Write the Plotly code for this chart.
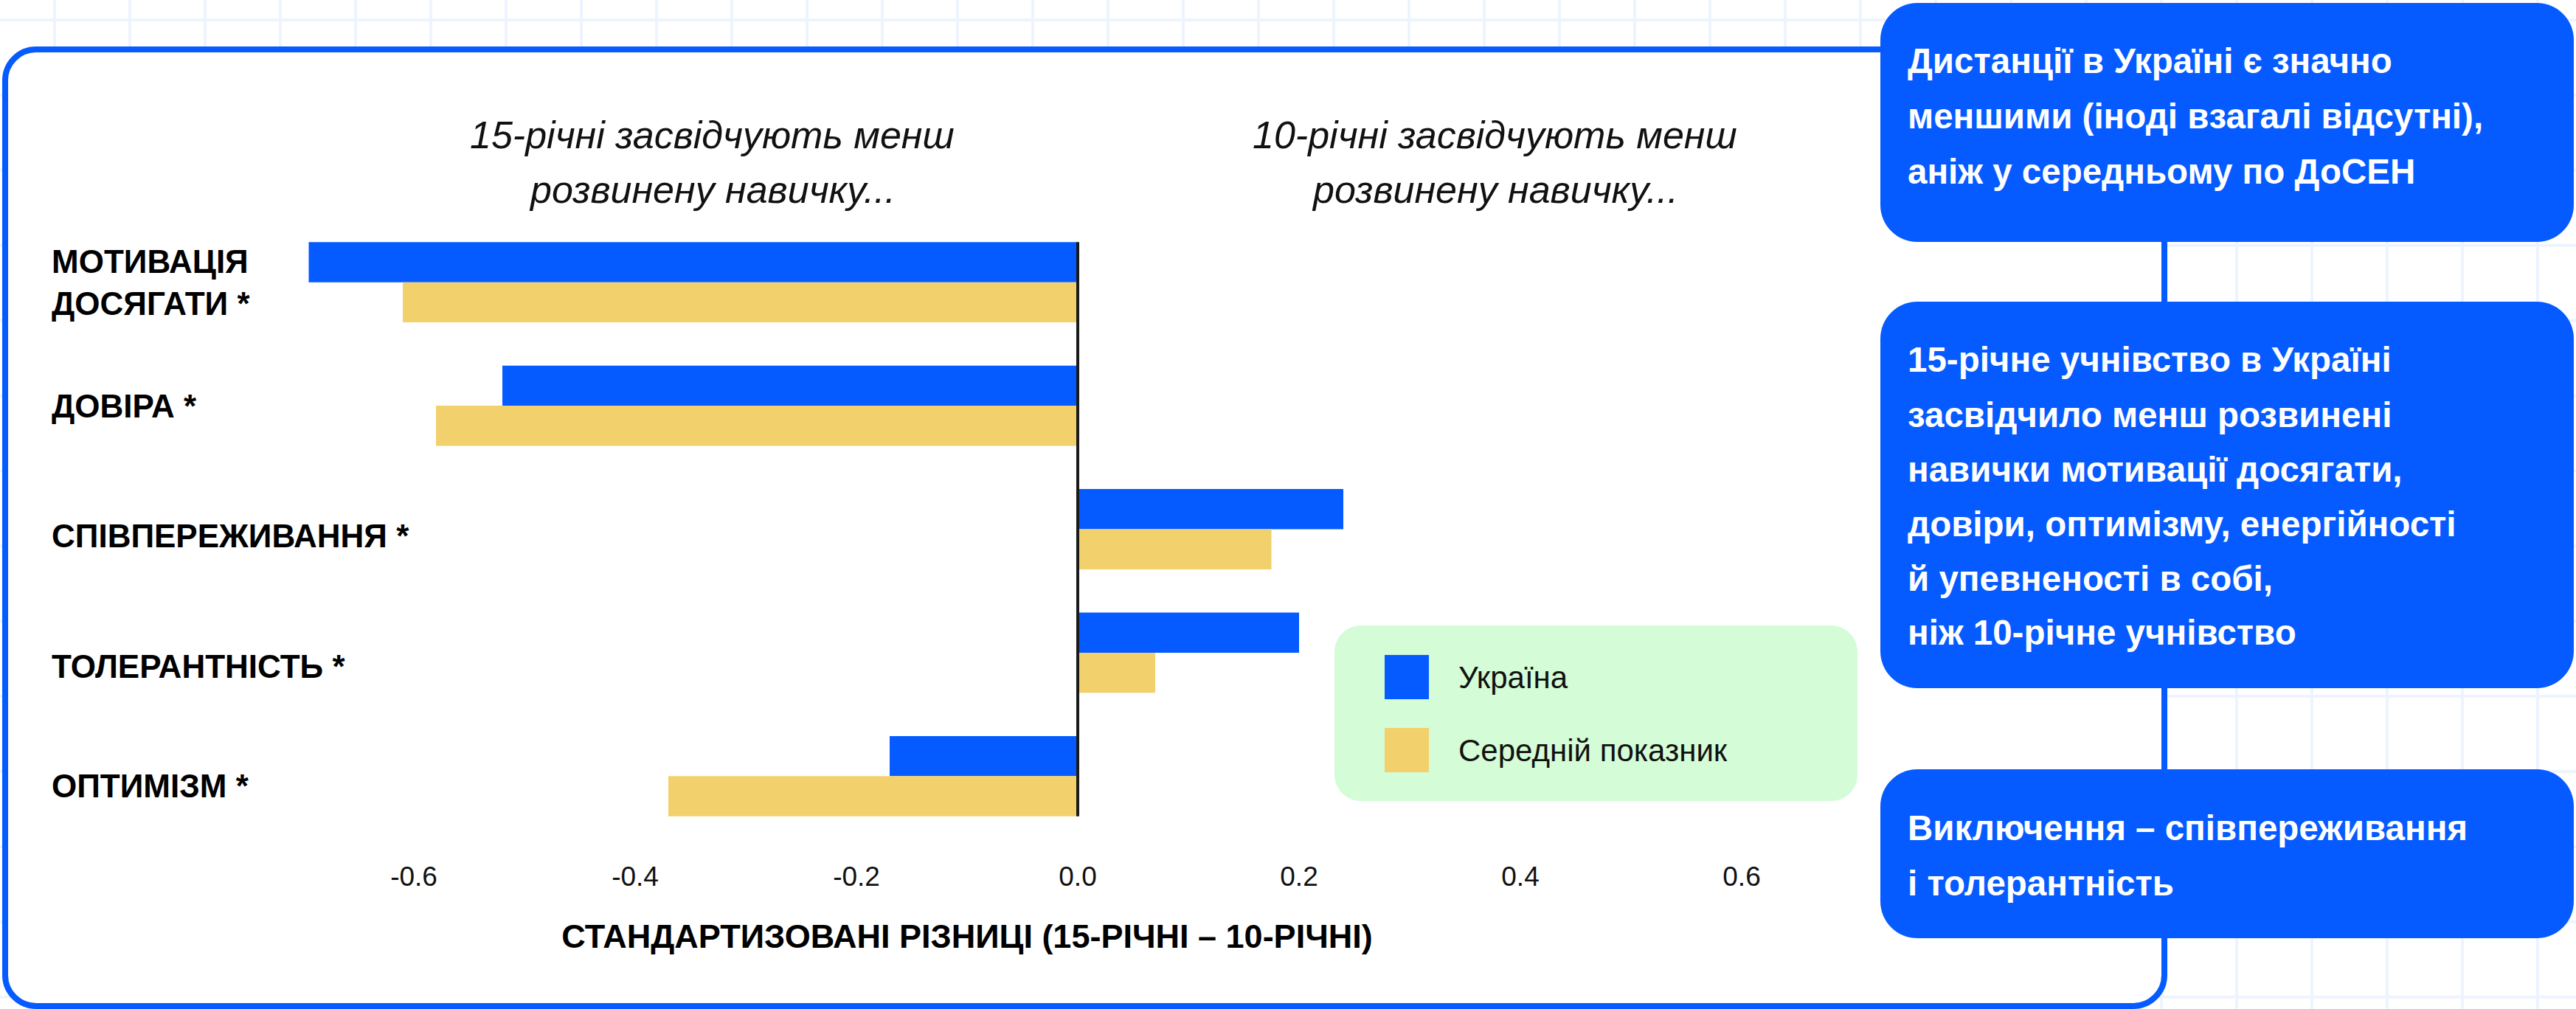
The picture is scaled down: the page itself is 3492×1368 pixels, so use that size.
import plotly.graph_objects as go

# ---------------- data ----------------
categories = ["МОТИВАЦІЯ<br>ДОСЯГАТИ *", "ДОВІРА *", "СПІВПЕРЕЖИВАННЯ *", "ТОЛЕРАНТНІСТЬ *", "ОПТИМІЗМ *"]
series_names = ["Україна", "Середній показник"]
ukraine = [-0.695, -0.52, 0.24, 0.20, -0.17]
average = [-0.61, -0.58, 0.175, 0.07, -0.37]
tick_values = [-0.6, -0.4, -0.2, 0.0, 0.2, 0.4, 0.6]
tick_labels = ["-0.6", "-0.4", "-0.2", "0.0", "0.2", "0.4", "0.6"]
x_title = "СТАНДАРТИЗОВАНІ РІЗНИЦІ (15-РІЧНІ – 10-РІЧНІ)"
left_note = ["15-річні засвідчують менш", "розвинену навичку..."]
right_note = ["10-річні засвідчують менш", "розвинену навичку..."]
callout_texts = [
    ["Дистанції в Україні є значно", "меншими (іноді взагалі відсутні),", "аніж у середньому по ДоСЕН"],
    ["15-річне учнівство в Україні", "засвідчило менш розвинені", "навички мотивації досягати,",
     "довіри, оптимізму, енергійності", "й упевненості в собі,", "ніж 10-річне учнівство"],
    ["Виключення – співпереживання", "і толерантність"],
]

# ---------------- style ----------------
W, H = 3492, 1368
BLUE = "#055BFF"
YELLOW = "#F2D06B"
GREEN = "#D4FCD6"
GRID = "#EEF4FE"
FONT = "Liberation Sans, Arial, sans-serif"


def px(x):
    return x / W


def py(y):
    return 1 - y / H


def rrect(x0, y0, x1, y1, r):
    k = 0.5523 * r
    pts = [
        ("M", [(x0 + r, y0)]),
        ("L", [(x1 - r, y0)]),
        ("C", [(x1 - r + k, y0), (x1, y0 + r - k), (x1, y0 + r)]),
        ("L", [(x1, y1 - r)]),
        ("C", [(x1, y1 - r + k), (x1 - r + k, y1), (x1 - r, y1)]),
        ("L", [(x0 + r, y1)]),
        ("C", [(x0 + r - k, y1), (x0, y1 - r + k), (x0, y1 - r)]),
        ("L", [(x0, y0 + r)]),
        ("C", [(x0, y0 + r - k), (x0 + r - k, y0), (x0 + r, y0)]),
    ]
    s = ""
    for cmd, ps in pts:
        s += cmd + " ".join(f"{px(a):.6f},{py(b):.6f}" for a, b in ps) + " "
    return s + "Z"


fig = go.Figure()
fig.add_trace(go.Bar(y=categories, x=ukraine, orientation="h", name=series_names[0],
                     marker=dict(color=BLUE, line=dict(width=0)), showlegend=False))
fig.add_trace(go.Bar(y=categories, x=average, orientation="h", name=series_names[1],
                     marker=dict(color=YELLOW, line=dict(width=0)), showlegend=False))

shapes = []
# background grid
for k in range(34):
    x = 74 + 102 * k
    shapes.append(dict(type="line", xref="paper", yref="paper", x0=px(x), x1=px(x), y0=0, y1=1,
                       line=dict(color=GRID, width=4), layer="below"))
for k in range(14):
    y = 27 + 101.9 * k
    shapes.append(dict(type="line", xref="paper", yref="paper", x0=0, x1=1, y0=py(y), y1=py(y),
                       line=dict(color=GRID, width=4), layer="below"))
# main frame
shapes.append(dict(type="path", xref="paper", yref="paper", path=rrect(7, 67, 2934, 1364, 42),
                   fillcolor="white", line=dict(color=BLUE, width=8), layer="below"))
# legend box
shapes.append(dict(type="path", xref="paper", yref="paper", path=rrect(1809, 848, 2518, 1086, 36),
                   fillcolor=GREEN, line=dict(width=0), layer="below"))
legend_colors = [BLUE, YELLOW]
legend_centers = [918, 1017]
for c, yc in zip(legend_colors, legend_centers):
    shapes.append(dict(type="rect", xref="paper", yref="paper", x0=px(1877), x1=px(1937),
                       y0=py(yc + 30), y1=py(yc - 30), fillcolor=c, line=dict(width=0), layer="below"))
# callouts
callout_boxes = [(2549, 4, 3489, 328), (2549, 409, 3489, 933), (2549, 1043, 3489, 1272)]
for (x0, y0, x1, y1) in callout_boxes:
    shapes.append(dict(type="path", xref="paper", yref="paper", path=rrect(x0, y0, x1, y1, 50),
                       fillcolor=BLUE, line=dict(width=0), layer="below"))
# zero line
shapes.append(dict(type="line", xref="x", yref="y", x0=0, x1=0, y0=-0.325, y1=len(categories) - 1 + 0.325,
                   line=dict(color="#1a1a1a", width=4), layer="above"))

annotations = []
# category labels
label_shift = [0, 0, -9, -19, -13]
for cat, ys in zip(categories, label_shift):
    annotations.append(dict(xref="paper", yref="y", x=px(68), y=cat, text=cat, showarrow=False,
                            xanchor="left", yanchor="middle", align="left", yshift=ys,
                            font=dict(family=FONT, size=44, color="#000", weight="bold")))
# top notes
for note, xc in ((left_note, 965), (right_note, 2026)):
    for i, line in enumerate(note):
        annotations.append(dict(xref="paper", yref="paper", x=px(xc), y=py(183 + 74 * i), text=line,
                                showarrow=False, xanchor="center", yanchor="middle",
                                font=dict(family=FONT, size=52, color="#111", style="italic")))
# legend texts
for name, yc in zip(series_names, legend_centers):
    annotations.append(dict(xref="paper", yref="paper", x=px(1975), y=py(yc), text=name, showarrow=False,
                            xanchor="left", yanchor="middle",
                            font=dict(family=FONT, size=42, color="#111")))
# callout texts
callout_first = [83, 488, 1122]
callout_step = [75, 74, 75]
for lines, y0, st in zip(callout_texts, callout_first, callout_step):
    for i, line in enumerate(lines):
        annotations.append(dict(xref="paper", yref="paper", x=px(2584), y=py(y0 + st * i), text=line,
                                showarrow=False, xanchor="left", yanchor="middle",
                                font=dict(family=FONT, size=47.5, color="white", weight="bold")))

fig.update_layout(
    width=W, height=H, autosize=False,
    margin=dict(l=0, r=0, t=0, b=0),
    paper_bgcolor="white", plot_bgcolor="rgba(0,0,0,0)",
    barmode="group", bargap=0.35, bargroupgap=0,
    shapes=shapes, annotations=annotations, showlegend=False,
    xaxis=dict(domain=[px(231), px(2391)], range=[-0.82, 0.62], tickvals=tick_values, ticktext=tick_labels,
               showgrid=False, zeroline=False, showline=False, ticks="outside", ticklen=20,
               tickcolor="rgba(0,0,0,0)", tickfont=dict(family=FONT, size=37, color="#111"),
               title=dict(text=x_title, standoff=45,
                          font=dict(family=FONT, size=45, color="#000", weight="bold")),
               automargin=False, fixedrange=True),
    yaxis=dict(domain=[py(1136), py(299)], type="category", categoryarray=categories,
               range=[len(categories) - 0.5, -0.5], showticklabels=False, showgrid=False,
               zeroline=False, showline=False, ticks="", automargin=False, fixedrange=True),
)

fig.write_html("out.html", config={"displayModeBar": False},
               post_script="document.body.style.margin='0';document.body.style.overflow='hidden';")
